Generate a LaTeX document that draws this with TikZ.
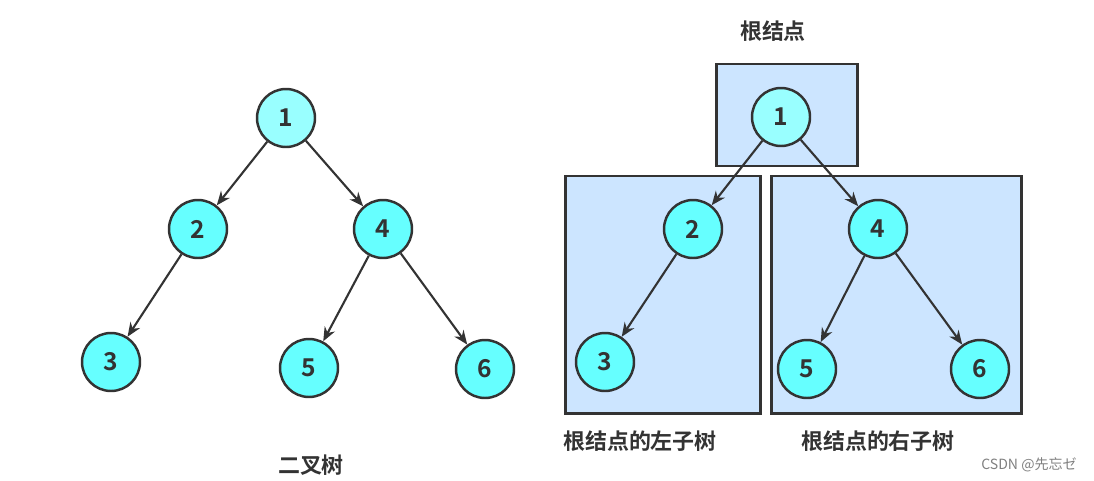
\documentclass[tikz,border=0pt]{standalone}
\usepackage{fontspec}
\setmainfont{Noto Sans CJK SC}
\newfontfamily\labelfont{Noto Sans CJK SC Bold}
\usetikzlibrary{arrows.meta,positioning}
\definecolor{edgegray}{HTML}{333333}
\definecolor{rootcyan}{HTML}{99FFFF}
\definecolor{kidcyan}{HTML}{66FFFF}
\definecolor{subblue}{HTML}{CCE5FF}

\begin{document}
\begin{tikzpicture}[x=0.02cm,y=-0.02cm,
	kidlink/.style={draw=edgegray,line width=1.2pt,arrows={-Stealth[length=8pt,width=6.5pt]}},
	vert/.style={circle,draw=edgegray,line width=1.4pt,minimum size=1.16cm,inner sep=0pt,fill=kidcyan,font=\labelfont\fontsize{14}{14}\selectfont,text=edgegray},
	rootvert/.style={vert,fill=rootcyan},
	subtree/.style={draw=edgegray,line width=1.7pt,fill=subblue},
	caption/.style={font=\labelfont\fontsize{12.5}{14}\selectfont,text=edgegray}]
	\useasboundingbox (0,0) rectangle (1094,480);

	% left: the whole tree
	\node[rootvert]		(l1)	at (286,118)	{1};
	\node[vert]			(l2)	at (198,229)	{2};
	\node[vert]			(l4)	at (383,229)	{4};
	\node[vert]			(l3)	at (111,362)	{3};
	\node[vert]			(l5)	at (309,368)	{5};
	\node[vert]			(l6)	at (485,369)	{6};
	\node[caption]		(ltitle)	at (311,465)	{二叉树};

	\draw[kidlink] (l1) -- (l2);
	\draw[kidlink] (l1) -- (l4);
	\draw[kidlink] (l2) -- (l3);
	\draw[kidlink] (l4) -- (l5);
	\draw[kidlink] (l4) -- (l6);

	% right: root and its two subtrees
	\filldraw[subtree] (716,64) rectangle (857,166);
	\filldraw[subtree] (565,176) rectangle (760,413);
	\filldraw[subtree] (771,176) rectangle (1021,413);

	\node[rootvert]		(r1)	at (781,117)	{1};
	\node[vert]			(r2)	at (693,229)	{2};
	\node[vert]			(r4)	at (878,229)	{4};
	\node[vert]			(r3)	at (605,362)	{3};
	\node[vert]			(r5)	at (807,369)	{5};
	\node[vert]			(r6)	at (980,369)	{6};

	\draw[kidlink] (r1) -- (r2);
	\draw[kidlink] (r1) -- (r4);
	\draw[kidlink] (r2) -- (r3);
	\draw[kidlink] (r4) -- (r5);
	\draw[kidlink] (r4) -- (r6);

	\node[caption]		(rtitle)	at (773,31)		{根结点};
	\node[caption]		(lsub)		at (640,441)	{根结点的左子树};
	\node[caption]		(rsub)		at (878,441)	{根结点的右子树};
	\node[font=\fontsize{8}{9}\selectfont,text=gray]	(mark)	at (1029,465)	{CSDN @先忘ゼ};
\end{tikzpicture}
\end{document}
